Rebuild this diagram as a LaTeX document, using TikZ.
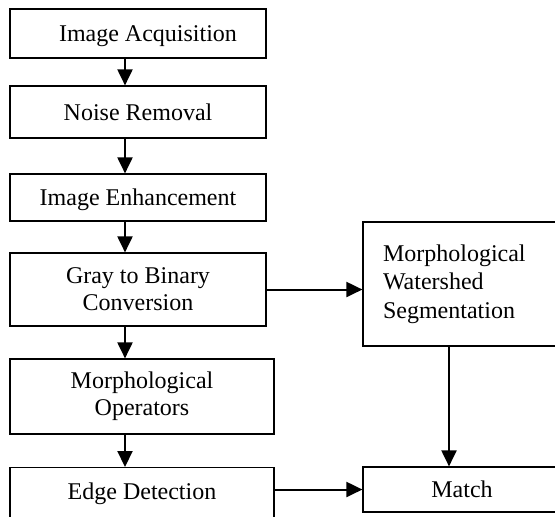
\documentclass[tikz,border=0pt]{standalone}
\usepackage{fontspec}
\setmainfont{Liberation Serif}
\usetikzlibrary{arrows.meta}

\begin{document}
\begin{tikzpicture}[
        x=0.5pt, y=-0.5pt,
        every node/.style={rectangle, draw, line width=0.6pt, align=center, font=\fontsize{12}{13.5}\selectfont},
        oneline/.style={text height=11pt, text depth=2.6pt},
        flow/.style={line width=1pt, -{Triangle[length=8pt, width=7.5pt]}}
    ]
    \path[use as bounding box, clip] (0,0) rectangle (555,516);

    % Nodes for left column
    \node[oneline, minimum width=128pt, minimum height=24.5pt] (acq) at (138,33.5) {\hspace*{10pt}Image Acquisition};
    \node[oneline, minimum width=128pt, minimum height=26pt] (noise) at (138,112) {Noise Removal};
    \node[oneline, minimum width=128pt, minimum height=23.5pt] (enh) at (138,197.5) {Image Enhancement};
    \node[minimum width=128pt, minimum height=36.5pt] (gray) at (138,289.5) {Gray to Binary\\Conversion};
    \node[minimum width=132pt, minimum height=37.5pt] (morph) at (142,396.5) {Morphological\\Operators};
    \node[minimum width=132pt, anchor=north, inner ysep=7.5pt, text height=8.2pt, text depth=20pt] (edge) at (142,467) {Edge Detection};

    % Nodes for right column
    \node[text width=79pt, inner xsep=10pt, minimum height=62pt, align=left, font=\fontsize{12}{14.2}\selectfont] (wshed) at (462,284) {Morphological\\Watershed\\Segmentation};
    \node[oneline, minimum width=99pt, minimum height=22.5pt] (match) at (462,489.5) {Match};

    \coordinate (spine) at (125,0);
    \coordinate (drop) at (449,0);

    % Edges
    \draw[flow] (acq.south -| spine) -- (noise.north -| spine);
    \draw[flow] (noise.south -| spine) -- (enh.north -| spine);
    \draw[flow] (enh.south -| spine) -- (gray.north -| spine);
    \draw[flow] (gray.south -| spine) -- (morph.north -| spine);
    \draw[flow] (morph.south -| spine) -- (edge.north -| spine);
    \draw[flow] (gray.east) -- (gray.east -| wshed.west);
    \draw[flow] (wshed.south -| drop) -- (match.north -| drop);
    \draw[flow] (edge.east |- match.west) -- (match.west);

\end{tikzpicture}
\end{document}
